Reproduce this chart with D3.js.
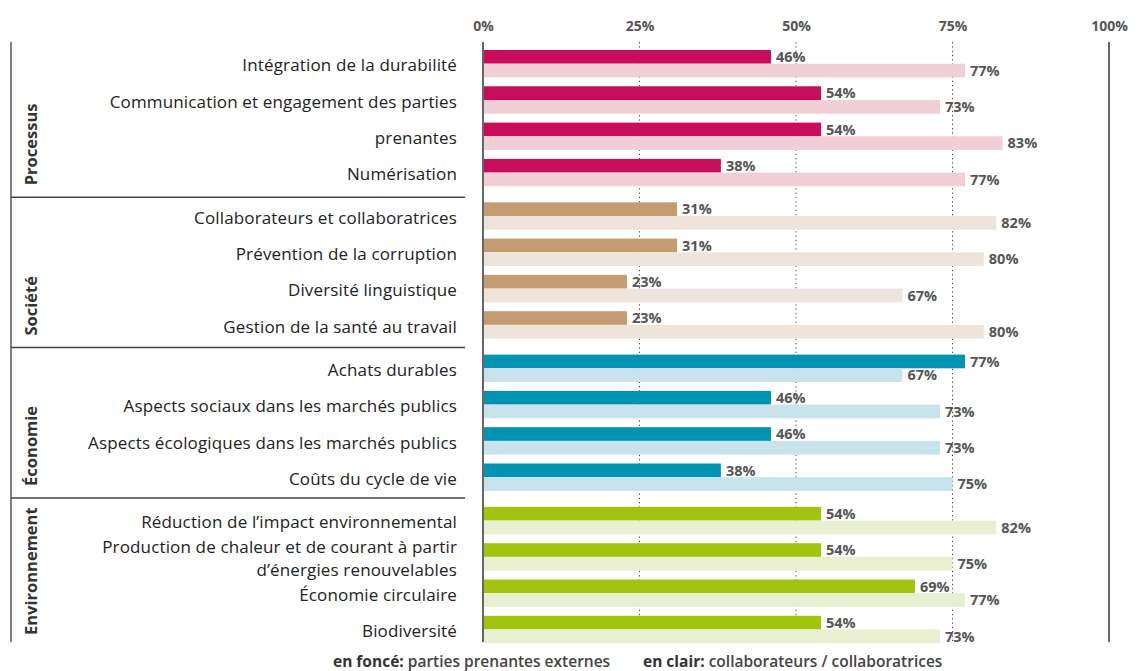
<!DOCTYPE html>
<html>
<head>
<meta charset="utf-8">
<script src="https://cdn.jsdelivr.net/npm/d3@7"></script>
<style>
  body { margin: 0; background: #fff; }
  svg { display: block; font-family: "Open Sans", "Noto Sans", sans-serif; }
</style>
</head>
<body>
<script>
// chart data
var groups = ["Processus", "Société", "Économie", "Environnement"];
var rowGroup = [0, 0, 0, 0, 1, 1, 1, 1, 2, 2, 2, 2, 3, 3, 3, 3];
var rowLabels = [
	["Intégration de la durabilité"],
	["Communication et engagement des parties"],
	["prenantes"],
	["Numérisation"],
	["Collaborateurs et collaboratrices"],
	["Prévention de la corruption"],
	["Diversité linguistique"],
	["Gestion de la santé au travail"],
	["Achats durables"],
	["Aspects sociaux dans les marchés publics"],
	["Aspects écologiques dans les marchés publics"],
	["Coûts du cycle de vie"],
	["Réduction de l’impact environnemental"],
	["Production de chaleur et de courant à partir", "d’énergies renouvelables"],
	["Économie circulaire"],
	["Biodiversité"]
];
var external = [46, 54, 54, 38, 31, 31, 23, 23, 77, 46, 46, 38, 54, 54, 69, 54];
var employees = [77, 73, 83, 77, 82, 80, 67, 80, 67, 73, 73, 75, 82, 75, 77, 73];
var ticks = [0, 25, 50, 75, 100];
var darkColors = ["#c80d5a", "#c49c72", "#0093b2", "#a2c40f"];
var lightColors = ["#f0cfd7", "#efe4db", "#c9e3ec", "#e9f0d2"];

var W = 1143, H = 671;
var yTop = 42, yBottom = 642;

var svg = d3.select("body").append("svg")
	.attr("width", W)
	.attr("height", H);

// scales
var x = d3.scaleLinear().domain([0, 100]).range([483, 1109]);
var gy = d3.scaleBand().domain(d3.range(groups.length)).range([50, 50 + 4 * 152.3]);
var ry = d3.scaleBand().domain(d3.range(4)).range([0, 4 * 36.3]);
var barH = 13.7;

var rows = rowGroup.map(function(g, i) {
	var idx = i - rowGroup.indexOf(g);
	return { g: g, i: i, top: gy(g) + ry(idx) };
});

// gridlines
svg.selectAll(".grid")
	.data([25, 50, 75])
	.enter().append("line")
		.attr("x1", function(d) { return x(d); })
		.attr("x2", function(d) { return x(d); })
		.attr("y1", yTop).attr("y2", yBottom)
		.attr("stroke", "#444")
		.attr("stroke-width", 1)
		.attr("stroke-dasharray", "1.3,3");

// top axis labels
var axis = svg.append("g")
	.attr("transform", "translate(0,31)")
	.call(d3.axisTop(x).tickValues(ticks).tickSize(0).tickPadding(0)
		.tickFormat(function(d) { return d + "%"; }));
axis.select(".domain").remove();
axis.selectAll("text")
	.attr("fill", "#555")
	.style("font-family", "'Open Sans', sans-serif")
	.style("font-size", "14px")
	.style("font-weight", "bold");

// bars
var row = svg.selectAll(".row")
	.data(rows)
	.enter().append("g")
		.attr("class", "row");

row.append("rect")
	.attr("x", x(0))
	.attr("y", function(d) { return d.top; })
	.attr("width", function(d) { return x(external[d.i]) - x(0); })
	.attr("height", barH)
	.attr("fill", function(d) { return darkColors[d.g]; });

row.append("rect")
	.attr("x", x(0))
	.attr("y", function(d) { return d.top + barH; })
	.attr("width", function(d) { return x(employees[d.i]) - x(0); })
	.attr("height", barH)
	.attr("fill", function(d) { return lightColors[d.g]; });

// value labels
row.append("text")
	.attr("x", function(d) { return x(external[d.i]) + 5; })
	.attr("y", function(d) { return d.top + barH / 2; })
	.attr("dy", "0.36em")
	.attr("fill", "#555")
	.style("font-size", "14.5px")
	.style("font-weight", "bold")
	.text(function(d) { return external[d.i] + "%"; });

row.append("text")
	.attr("x", function(d) { return x(employees[d.i]) + 5; })
	.attr("y", function(d) { return d.top + barH * 1.5; })
	.attr("dy", "0.36em")
	.attr("fill", "#555")
	.style("font-size", "14.5px")
	.style("font-weight", "bold")
	.text(function(d) { return employees[d.i] + "%"; });

// category labels
row.append("text")
	.attr("x", 457)
	.attr("y", function(d) { return d.top + barH + 1.5 - (rowLabels[d.i].length - 1) * 11.5; })
	.attr("text-anchor", "end")
	.attr("fill", "#222")
	.style("font-size", "17px")
	.style("letter-spacing", "0.15px")
	.selectAll("tspan")
	.data(function(d) { return rowLabels[d.i]; })
	.enter().append("tspan")
		.attr("x", 457)
		.attr("dy", function(d, i) { return i == 0 ? "0.36em" : "23px"; })
		.text(function(d) { return d; });

// axis lines at 0% and 100%
svg.selectAll(".edge")
	.data([0, 100])
	.enter().append("line")
		.attr("x1", function(d) { return x(d); })
		.attr("x2", function(d) { return x(d); })
		.attr("y1", yTop).attr("y2", yBottom)
		.attr("stroke", "#666")
		.attr("stroke-width", 2);

// group brackets
var seps = groups.map(function(g, i) { return i == 0 ? yTop : gy(i) - 3 - 2 * i; });
var ends = seps.slice(1).concat([yBottom]);

svg.append("line")
	.attr("x1", 11).attr("x2", 11)
	.attr("y1", yTop).attr("y2", yBottom)
	.attr("stroke", "#555")
	.attr("stroke-width", 1.5);

svg.selectAll(".sep")
	.data(seps.slice(1))
	.enter().append("line")
		.attr("x1", 11).attr("x2", 465)
		.attr("y1", function(d) { return d; })
		.attr("y2", function(d) { return d; })
		.attr("stroke", "#444")
		.attr("stroke-width", 1.5);

svg.selectAll(".glabel")
	.data(groups)
	.enter().append("text")
		.attr("transform", function(d, i) {
			return "translate(37," + (ends[i] - (i == 3 ? 7 : 12)) + ") rotate(-90)";
		})
		.attr("fill", "#333")
		.style("font-size", "16.5px")
		.style("font-weight", "bold")
		.text(function(d) { return d; });

// legend
var legend = [
	{ x: 333, key: "en foncé:", text: " parties prenantes externes" },
	{ x: 643, key: "en clair:", text: " collaborateurs / collaboratrices" }
];
var lt = svg.selectAll(".legend")
	.data(legend)
	.enter().append("text")
		.attr("x", function(d) { return d.x; })
		.attr("y", 667)
		.style("font-size", "15.5px");
lt.append("tspan")
	.attr("fill", "#333")
	.style("font-weight", "bold")
	.text(function(d) { return d.key; });
lt.append("tspan")
	.attr("fill", "#444")
	.style("font-weight", "600")
	.text(function(d) { return d.text; });
</script>
</body>
</html>
